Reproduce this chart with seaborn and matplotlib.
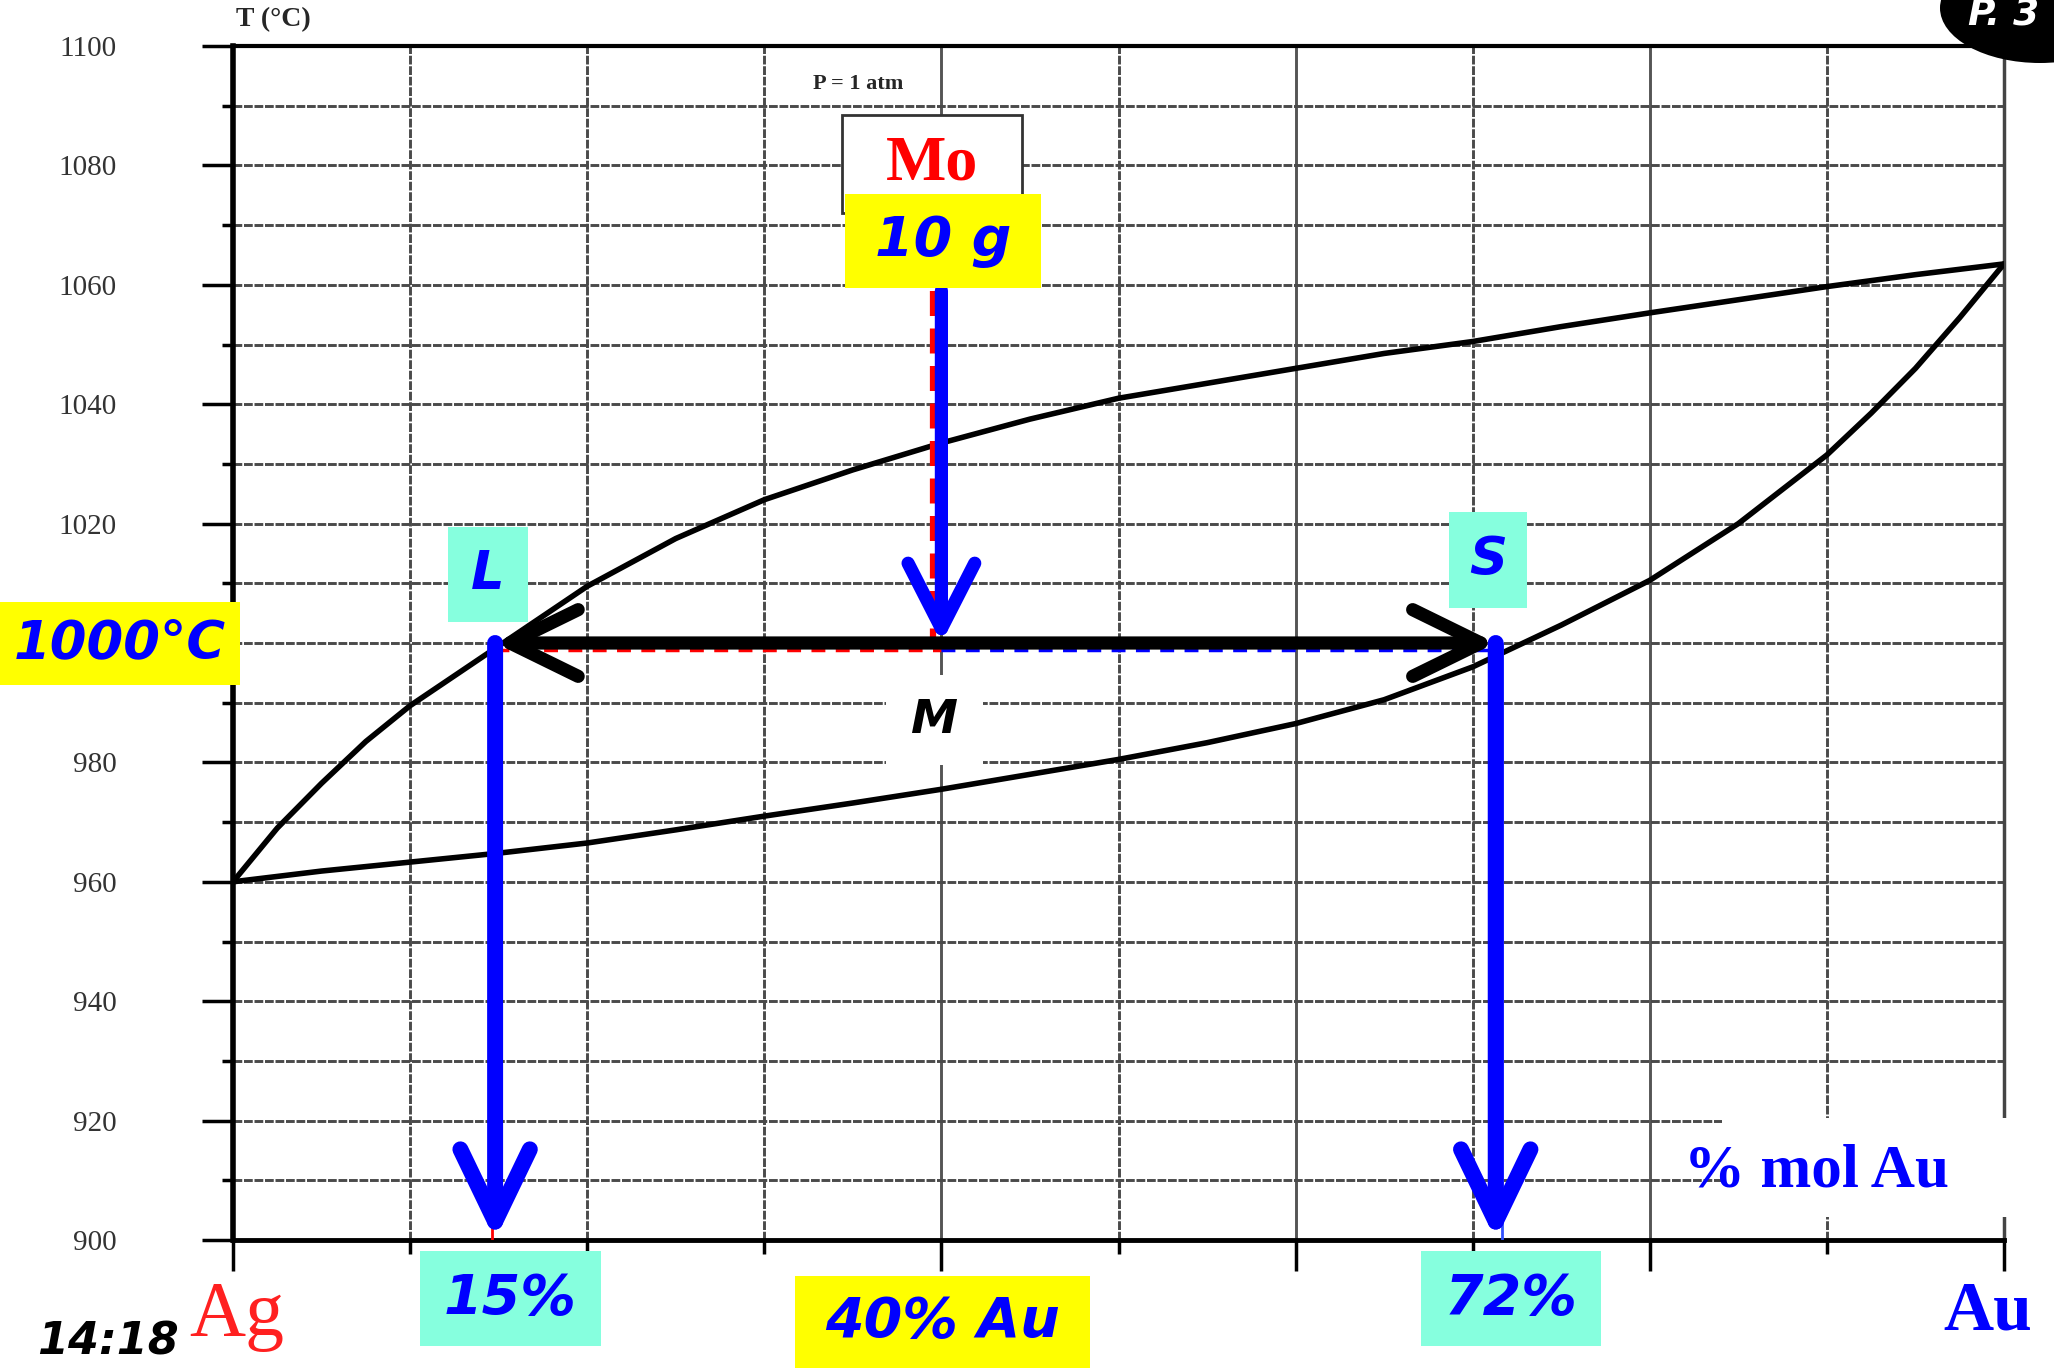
#Ag-Au の相図 (P = 1 atm) : 液相線・固相線と 1000°C でのてこの法則の作図

import pandas as pd
import matplotlib
matplotlib.use("Agg")
import matplotlib.pyplot as plt
import seaborn as sns
from matplotlib.patches import Rectangle, Ellipse, FancyArrowPatch, ArrowStyle
from matplotlib.ticker import MultipleLocator, FuncFormatter

# 図から読み取った値 (% mol Au → T °C)
X_LIQ = [0, 2.5, 5, 7.5, 10, 15, 20, 25, 30, 35, 40, 45, 50, 55, 60, 65, 70, 75, 80, 85, 90, 95, 100]
LIQUIDUS = [960, 969, 976.5, 983.5, 989.5, 999.5, 1009.5, 1017.5, 1024, 1029, 1033.5, 1037.5, 1041,
            1043.5, 1046, 1048.5, 1050.5, 1053, 1055.3, 1057.5, 1059.7, 1061.7, 1063.5]
X_SOL = [0, 5, 10, 15, 20, 25, 30, 35, 40, 45, 50, 55, 60, 65, 70, 75, 80, 85, 90, 92.5, 95, 97.5, 100]
SOLIDUS = [960, 961.8, 963.3, 964.8, 966.5, 968.7, 971, 973.2, 975.5, 978, 980.5,
           983.3, 986.5, 990.5, 996, 1003, 1010.5, 1020, 1031.5, 1038.5, 1046, 1054.5, 1063.5]

T_RANGE = [900, 1100]
X_RANGE = [0, 100]
T_WORK = 1000      # 作業温度
X_M = 40           # 全体組成
X_L = 14.8         # 液相の組成
X_S = 71.3         # 固相の組成
T_START = 1059     # 上からの矢印の始点

BLUE = "#0000FF"
CYAN = "#86FFDE"
YELLOW = "#FFFF00"
HAND = dict(family=["DejaVu Sans"], style="italic", weight="bold")


def label_box(ax, x0, x1, t0, t1, text, face, color, size, edge="none", z=8, **kw):
    # 色付きの四角に文字を載せる (データ座標)
    ax.add_patch(Rectangle((x0, t1), x1 - x0, t0 - t1, facecolor=face, edgecolor=edge,
                           lw=2, zorder=z, clip_on=False))
    if text:
        ax.text((x0 + x1) / 2, (t0 + t1) / 2, text, color=color, fontsize=size,
                ha="center", va="center", zorder=z + 1, clip_on=False, **kw)


def arrow(ax, a, b, color, lw, hl, hw, style="->", z=6):
    st = ArrowStyle(style, head_length=hl, head_width=hw)
    p = FancyArrowPatch(a, b, arrowstyle=st, mutation_scale=1, color=color, lw=lw,
                        shrinkA=0, shrinkB=0, capstyle="round", joinstyle="round",
                        zorder=z, clip_on=False)
    ax.add_patch(p)


def main():
    sns.set_theme(style="white")
    plt.rcParams["font.family"] = ["Liberation Serif", "DejaVu Sans"]

    df = pd.DataFrame({
        "x": X_LIQ + X_SOL,
        "T": LIQUIDUS + SOLIDUS,
        "curve": ["liquidus"] * len(X_LIQ) + ["solidus"] * len(X_SOL),
    })

    fig, ax = plt.subplots(figsize=(20.54, 13.69), dpi=100)
    fig.subplots_adjust(left=233 / 2054, right=2004 / 2054, top=1 - 46 / 1369, bottom=1 - 1240 / 1369)

    sns.lineplot(data=df, x="x", y="T", hue="curve", palette={"liquidus": "black", "solidus": "black"},
                 lw=4, legend=False, ax=ax, zorder=4)

    ax.set_xlim(*X_RANGE)
    ax.set_ylim(*T_RANGE)
    ax.set_xlabel("")
    ax.set_ylabel("")

    # 目盛り (1000 のラベルは黄色の札で隠れる)
    ax.xaxis.set_major_locator(MultipleLocator(20))
    ax.xaxis.set_minor_locator(MultipleLocator(10))
    ax.yaxis.set_major_locator(MultipleLocator(20))
    ax.yaxis.set_minor_locator(MultipleLocator(10))
    ax.yaxis.set_major_formatter(FuncFormatter(lambda v, p: "" if round(v) == T_WORK else f"{v:.0f}"))
    ax.tick_params(axis="x", which="both", labelbottom=False, direction="out", bottom=True, colors="black")
    ax.tick_params(axis="x", which="major", length=22, width=2.5)
    ax.tick_params(axis="x", which="minor", length=10, width=2.5)
    ax.tick_params(axis="y", which="both", direction="out", left=True, colors="black")
    ax.tick_params(axis="y", which="major", length=22, width=2.5, pad=62, labelsize=21, labelcolor="#333333")
    ax.tick_params(axis="y", which="minor", length=8, width=2.5)

    # 方眼
    ax.set_axisbelow(True)
    ax.grid(which="both", color="#4a4a4a", lw=2.1, linestyle=(0, (3, 0.6)))
    for t in ax.xaxis.get_major_ticks() + ax.xaxis.get_minor_ticks():
        if 25 < t.get_loc() < 85 or t.get_loc() > 95:
            t.gridline.set_linestyle("-")
            t.gridline.set_color("#555555")

    for side, lw, col in [("left", 4, "black"), ("bottom", 3.5, "black"), ("top", 3, "black"), ("right", 2.5, "#444444")]:
        ax.spines[side].set_visible(True)
        ax.spines[side].set_linewidth(lw)
        ax.spines[side].set_color(col)

    # 軸の見出し
    ax.text(2.3, 1104.4, "T (°C)", fontsize=20, weight="bold", ha="center", va="center", clip_on=False)
    ax.text(35.3, 1093.6, "P = 1 atm", fontsize=16, weight="bold", ha="center", va="center", zorder=3)
    ax.text(0.2, 887.3, "Ag", fontsize=56, color="#FF2020", ha="center", va="center", clip_on=False)
    ax.text(99.1, 887.8, "Au", fontsize=50, weight="bold", color=BLUE, ha="center", va="center", clip_on=False)
    ax.add_patch(Rectangle((84.1, 903.8), 20, 16.7, facecolor="white", edgecolor="none", zorder=3, clip_on=False))
    ax.text(89.4, 911.4, "% mol Au", fontsize=44, weight="bold", color=BLUE, ha="center", va="center",
            zorder=4, clip_on=False)

    # 作図: 破線の補助線
    ax.plot([X_M - 0.45, X_M - 0.45], [T_START, T_WORK], color="red", lw=4.5, ls=(0, (4, 2)), zorder=5)
    ax.plot([X_L, X_M], [T_WORK - 1.1, T_WORK - 1.1], color="red", lw=2.5, ls=(0, (4, 3)), zorder=5)
    ax.plot([X_M, X_S], [T_WORK - 1.1, T_WORK - 1.1], color=BLUE, lw=2.5, ls=(0, (4, 3)), zorder=5)
    ax.plot([X_L - 0.15, X_L - 0.15], [T_WORK, T_RANGE[0]], color="red", lw=2, zorder=5)
    ax.plot([X_S + 0.35, X_S + 0.35], [T_WORK, T_RANGE[0]], color="#3050ff", lw=2, zorder=5)

    # 矢印
    arrow(ax, (X_M, T_START), (X_M, T_WORK), BLUE, 9.5, 47, 24, z=7)
    arrow(ax, (X_L, T_WORK), (X_S, T_WORK), "black", 9.5, 49, 24, style="<->", z=6)
    arrow(ax, (X_L, T_WORK), (X_L, T_RANGE[0]), BLUE, 11.5, 52, 25, z=7)
    arrow(ax, (X_S, T_WORK), (X_S, T_RANGE[0]), BLUE, 11.5, 52, 25, z=7)

    # ラベルの箱
    label_box(ax, 34.39, 44.55, 1088.4, 1072.0, "Mo", "white", "red", 46, edge="#333333",
              weight="bold", family=["Liberation Serif"])
    label_box(ax, 34.56, 45.62, 1075.2, 1059.5, "10 g", YELLOW, BLUE, 40, **HAND)
    label_box(ax, 12.14, 16.66, 1019.5, 1003.6, "L", CYAN, BLUE, 38, **HAND)
    label_box(ax, 68.66, 73.07, 1022.0, 1005.9, "S", CYAN, BLUE, 38, **HAND)
    label_box(ax, 36.87, 42.35, 994.7, 979.5, "M", "white", "black", 34, **HAND)
    label_box(ax, -13.16, 0.40, 1006.8, 993.0, "1000°C", YELLOW, BLUE, 38, **HAND)
    label_box(ax, 10.56, 20.78, 898.1, 882.2, "15%", CYAN, BLUE, 40, **HAND)
    label_box(ax, 31.73, 48.39, 894.0, 878.6, "40% Au", YELLOW, BLUE, 40, **HAND)
    label_box(ax, 67.08, 77.25, 898.1, 882.2, "72%", CYAN, BLUE, 40, **HAND)

    fig.text(108 / 2054, 1 - 1342 / 1369, "14:18", fontsize=32, color="black", ha="center", va="center", **HAND)

    # 右上のページ番号
    fig.add_artist(Ellipse((2040 / 2054, 1 - 8 / 1369), 200 / 2054, 110 / 1369, transform=fig.transFigure,
                           facecolor="black", edgecolor="none"))
    fig.text(1968 / 2054, 1 - 16 / 1369, "P. 3", fontsize=27, color="white", ha="left", va="center", **HAND)

    fig.savefig("out.png", dpi=100)


if __name__ == "__main__":
    main()
